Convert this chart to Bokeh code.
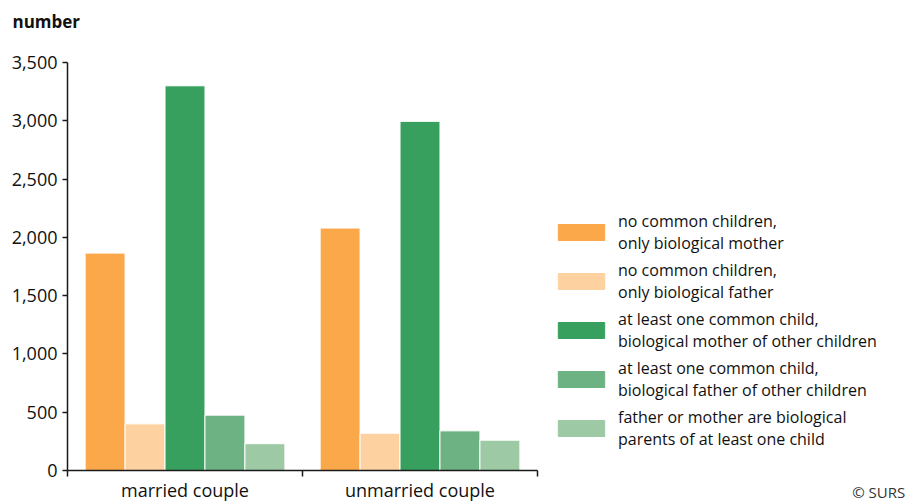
from bokeh.plotting import figure
from bokeh.models import (ColumnDataSource, Range1d, FixedTicker, NumeralTickFormatter,
                          Legend, LegendItem, Title, LinearAxis)
from bokeh.layouts import row, column
from bokeh.embed import file_html
from bokeh.resources import INLINE

# ---- data ----
groups = ["married couple", "unmarried couple"]
series = [
    "no common children,\nonly biological mother",
    "no common children,\nonly biological father",
    "at least one common child,\nbiological mother of other children",
    "at least one common child,\nbiological father of other children",
    "father or mother are biological\nparents of at least one child",
]
married = [1865, 400, 3300, 475, 230]
unmarried = [2080, 320, 2995, 340, 260]
colors = ["#FBA84B", "#FED1A0", "#38A05E", "#6DB283", "#9DCAA5"]
y_ticks = [0, 500, 1000, 1500, 2000, 2500, 3000, 3500]
y_title = "number"
source_note = "© SURS"

FONT = "Open Sans"
BAR_W = 0.17
INK = "#111111"
AXIS = "#1a1a1a"

# ---- header strip carrying the y-axis title ----
head = figure(width=905, height=41, min_border_left=67, min_border_right=0,
              min_border_top=0, min_border_bottom=0,
              x_axis_type=None, y_axis_type=None,
              output_backend="svg", toolbar_location=None, tools="")
head.outline_line_color = None
head.grid.visible = False
head.title = Title(text=y_title, align="left", offset=-55, standoff=18,
                   text_font=FONT, text_font_size="17px", text_font_style="bold",
                   text_color=INK)

# ---- main chart ----
p = figure(width=542, height=463,
           min_border_left=67, min_border_right=5, min_border_top=21, min_border_bottom=34,
           x_range=Range1d(0, len(groups)), y_range=Range1d(0, 3500),
           output_backend="svg", toolbar_location=None, tools="")
p.outline_line_color = None
p.grid.visible = False
p.title.visible = False

sources = []
for k, name in enumerate(series):
    vals = [married[k], unmarried[k]]
    xs = [i + 0.5 + (k - 2) * BAR_W for i in range(len(groups))]
    src = ColumnDataSource(dict(x=xs, top=vals))
    sources.append(src)
    p.vbar(x="x", top="top", bottom=0, width=BAR_W, source=src,
           fill_color=colors[k], line_color="white", line_width=1)

ya = p.yaxis[0]
ya.ticker = FixedTicker(ticks=y_ticks)
ya.formatter = NumeralTickFormatter(format="0,0")
ya.major_tick_out = 5
ya.major_tick_in = 0
ya.minor_tick_line_color = None
ya.axis_line_color = AXIS
ya.axis_line_width = 1.5
ya.major_tick_line_color = AXIS
ya.major_tick_line_width = 1.5
ya.major_label_text_font = FONT
ya.major_label_text_font_size = "18px"
ya.major_label_text_color = INK
ya.major_label_standoff = 5

xa = p.xaxis[0]
xa.ticker = FixedTicker(ticks=[i + 0.5 for i in range(len(groups))],
                        minor_ticks=list(range(len(groups) + 1)))
xa.major_label_overrides = {i + 0.5: g for i, g in enumerate(groups)}
xa.major_tick_line_color = None
xa.major_tick_out = 0
xa.major_tick_in = 0
xa.minor_tick_out = 6
xa.minor_tick_in = 0
xa.minor_tick_line_color = AXIS
xa.minor_tick_line_width = 1.5
xa.axis_line_color = AXIS
xa.axis_line_width = 1.5
xa.major_label_text_font = FONT
xa.major_label_text_font_size = "18px"
xa.major_label_text_color = INK
xa.major_label_standoff = 1

# ---- side panel: legend + source note ----
p2 = figure(width=363, height=463, min_border_left=0, min_border_right=0,
            min_border_top=21, min_border_bottom=34,
            x_range=Range1d(10, 11), y_range=Range1d(-2, -1),
            x_axis_type=None, y_axis_type=None,
            output_backend="svg", toolbar_location=None, tools="")
p2.outline_line_color = None
p2.grid.visible = False
p2.title.visible = False

items = []
for k, name in enumerate(series):
    # shares the bar data; hidden here, it only feeds the legend swatch
    r = p2.vbar(x="x", top="top", bottom=0, width=BAR_W, source=sources[k],
                fill_color=colors[k], line_color=colors[k])
    r.visible = False
    items.append(LegendItem(label=name, renderers=[r]))

legend = Legend(items=items, location=(10, 20),
                glyph_width=58, glyph_height=20, label_standoff=8,
                spacing=5, padding=0, margin=0,
                border_line_color=None, background_fill_alpha=0,
                inactive_fill_alpha=0,
                label_text_font=FONT, label_text_font_size="16px",
                label_text_color=INK)
p2.add_layout(legend, "center")

note_axis = LinearAxis(ticker=FixedTicker(ticks=[10.926], minor_ticks=[]),
                       major_label_overrides={10.926: source_note},
                       axis_line_color=None, major_tick_line_color=None,
                       minor_tick_line_color=None, major_tick_out=0, major_tick_in=0,
                       major_label_standoff=11,
                       major_label_text_font=FONT, major_label_text_font_size="15px",
                       major_label_text_color="#333333")
p2.add_layout(note_axis, "below")

layout = column(head, row(p, p2))
open("out.html", "w").write(file_html(layout, INLINE))
